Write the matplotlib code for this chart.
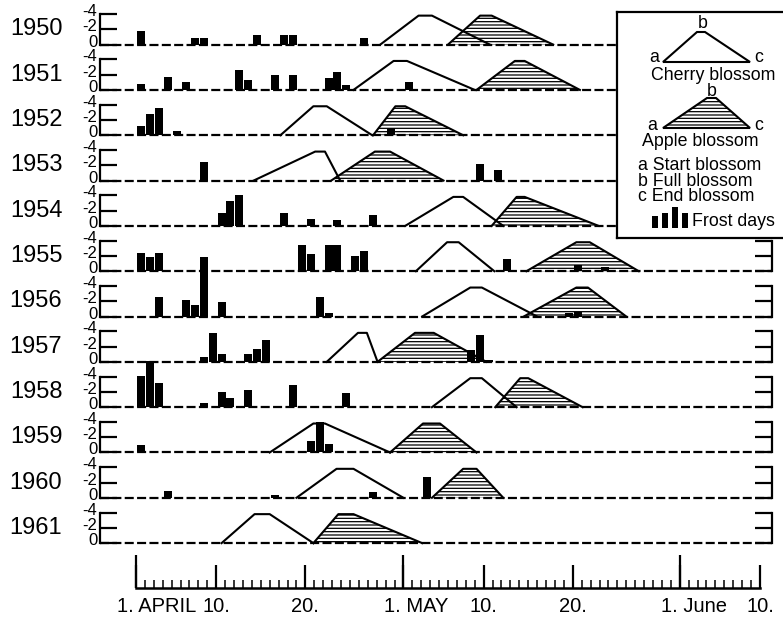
import numpy as np
import matplotlib
matplotlib.use("Agg")
import matplotlib.pyplot as plt
from matplotlib.patches import Polygon
from matplotlib.transforms import ScaledTranslation

plt.rcParams['font.family'] = ['Liberation Sans', 'DejaVu Sans']
plt.rcParams['hatch.linewidth'] = 0.9
plt.rcParams['lines.scale_dashes'] = False

YEARS = [1950, 1951, 1952, 1953, 1954, 1955, 1956, 1957, 1958, 1959, 1960, 1961]

# blossom phases, day of season (1 = 1 April, 31 = 1 May, 62 = 1 June):
# start, full blossom from, full blossom to, end
CHERRY = [
    (28.4, 32.7, 34.2, 40.7),
    (25.4, 29.9, 31.4, 39.0),
    (17.2, 20.9, 22.4, 27.5),
    (14.2, 21.1, 22.2, 23.9),
    (31.2, 36.6, 37.7, 42.2),
    (32.4, 35.9, 37.2, 41.2),
    (33.1, 38.5, 39.8, 46.0),
    (22.4, 25.9, 26.9, 28.1),
    (34.2, 38.5, 39.8, 43.7),
    (16.0, 20.9, 22.2, 29.5),
    (19.0, 23.5, 25.4, 31.0),
    (10.6, 14.3, 16.0, 20.9),
]
APPLE = [
    (36.0, 39.6, 40.9, 47.8),
    (39.2, 43.5, 44.6, 50.8),
    (27.6, 30.1, 31.2, 37.7),
    (22.9, 27.8, 29.5, 35.5),
    (40.9, 43.7, 44.6, 52.9),
    (44.8, 50.4, 51.9, 57.4),
    (44.5, 50.4, 51.7, 56.0),
    (28.1, 32.3, 34.4, 40.3),
    (41.3, 44.1, 45.0, 51.1),
    (29.5, 33.2, 35.1, 39.2),
    (34.2, 37.7, 39.2, 42.2),
    (20.9, 23.7, 25.4, 33.1),
]
PEAK = 3.8

# frost days (day of season) and minimum temperature (deg C)
FROST_DAYS = [
    [1, 7, 8, 14, 17, 18, 26],
    [1, 4, 6, 12, 13, 16, 18, 22, 23, 24, 31],
    [1, 2, 3, 5, 29],
    [8, 39, 41],
    [10, 11, 12, 17, 20, 23, 27],
    [1, 2, 3, 19, 20, 22, 23, 25, 26, 42, 50, 53],
    [3, 6, 7, 8, 10, 21, 22, 49, 50],
    [8, 9, 10, 13, 14, 15, 38, 39, 40],
    [1, 2, 3, 8, 10, 11, 13, 18, 24],
    [1, 20, 21, 22],
    [4, 16, 27, 33],
    [],
]
FROST_TEMP = [
    [-1.8, -0.9, -0.9, -1.2, -1.2, -1.2, -0.9],
    [-0.8, -1.75, -1.0, -2.6, -1.3, -2.0, -2.0, -1.6, -2.4, -0.7, -1.1],
    [-1.2, -2.8, -3.55, -0.5, -0.9],
    [-2.4, -2.2, -1.45],
    [-1.75, -3.2, -4.0, -1.75, -0.9, -0.8, -1.45],
    [-2.4, -1.85, -2.4, -3.4, -2.2, -3.5, -3.4, -2.05, -2.7, -1.55, -0.75, -0.5],
    [-2.6, -2.2, -1.45, -7.8, -1.85, -2.6, -0.4, -0.45, -0.65],
    [-0.65, -3.8, -1.05, -1.05, -1.7, -2.85, -1.6, -3.5, -0.25],
    [-4.1, -6.1, -3.2, -0.5, -2.05, -1.2, -2.2, -2.85, -1.85],
    [-1.0, -1.55, -3.95, -1.1],
    [-0.9, -0.4, -0.75, -2.7],
    [],
]

DATE_TICKS = [1, 10, 20, 31, 40, 50, 62, 71]
DATE_LABELS = ["1. APRIL", "10.", "20.", "1. MAY", "10.", "20.", "1. June", "10."]
MONTH_STARTS = [1, 31, 62]

# layout in pixels
W, H = 783, 618
LEFT, RIGHT = 100, 772
APR1_PX, PX_PER_DAY = 136, 8.914
ROW0, ROW_STEP, ROW_H = 44.6, 45.32, 30.5
XLIM = ((LEFT - APR1_PX) / PX_PER_DAY + 1, (RIGHT - APR1_PX) / PX_PER_DAY + 1)

fig = plt.figure(figsize=(W / 100, H / 100), dpi=100)
up = ScaledTranslation(0, 4 / 100, fig.dpi_scale_trans)

for i, year in enumerate(YEARS):
    base = ROW0 + i * ROW_STEP
    ax = fig.add_axes([LEFT / W, (H - base) / H, (RIGHT - LEFT) / W, ROW_H / H])
    ax.set_xlim(*XLIM)
    ax.set_ylim(0, 4)
    ax.patch.set_visible(False)
    ax.spines['top'].set_visible(False)
    ax.spines['bottom'].set_visible(False)
    ax.spines['left'].set_linewidth(1.6)
    ax.spines['right'].set_linewidth(1.6)
    ax.set_xticks([])
    ax.set_yticks([0, 2, 4], ['0', '-2', '-4'])
    ax.tick_params(axis='y', direction='in', length=12, width=1.6,
                   right=True, labelsize=12, pad=2)
    for lab in ax.get_yticklabels():
        lab.set_transform(lab.get_transform() + up)

    a, b1, b2, c = APPLE[i]
    ax.fill([a, b1, b2, c], [0, PEAK, PEAK, 0], facecolor='white',
            edgecolor='black', lw=0, hatch='-----', zorder=1, clip_on=False)
    ax.plot([a, b1, b2, c], [0, PEAK, PEAK, 0], color='black', lw=1.5,
            zorder=2, clip_on=False)
    a, b1, b2, c = CHERRY[i]
    ax.plot([a, b1, b2, c], [0, PEAK, PEAK, 0], color='black', lw=1.5,
            zorder=2, clip_on=False)

    ax.axhline(0, color='black', lw=1.6, dashes=(6.5, 2.4), zorder=3, clip_on=False)

    d = np.array(FROST_DAYS[i], dtype=float)
    t = np.array(FROST_TEMP[i], dtype=float)
    if len(d):
        ax.bar(d + 0.6, -t, width=0.9, color='black', zorder=4, clip_on=False)

    ax.text(-0.056, 2, str(year), transform=ax.get_yaxis_transform(),
            ha='right', va='center', fontsize=17)

# date scale
dx = fig.add_axes([LEFT / W, (H - 588) / H, (RIGHT - LEFT) / W, 40 / H])
dx.set_xlim(*XLIM)
dx.patch.set_visible(False)
for s in ('top', 'left', 'right'):
    dx.spines[s].set_visible(False)
dx.spines['bottom'].set_bounds(DATE_TICKS[0], DATE_TICKS[-1])
dx.spines['bottom'].set_linewidth(1.8)
dx.set_yticks([])
dx.set_xticks(DATE_TICKS, DATE_LABELS, fontsize=14.5)
dx.set_xticks(range(DATE_TICKS[0], DATE_TICKS[-1] + 1), minor=True)
dx.tick_params(axis='x', which='major', direction='in', length=16.5, width=1.6, pad=6.5)
dx.tick_params(axis='x', which='minor', direction='in', length=5.8, width=1.1)
left_shift = ScaledTranslation(-19 / 100, 0, fig.dpi_scale_trans)
for lab, txt in zip(dx.get_xticklabels(), DATE_LABELS):
    if txt.startswith('1.'):
        lab.set_ha('left')
        lab.set_transform(lab.get_transform() + left_shift)
sec = dx.secondary_xaxis('bottom')
sec.set_xticks(MONTH_STARTS, [''] * len(MONTH_STARTS))
sec.tick_params(direction='in', length=24, width=1.6)
sec.spines['bottom'].set_visible(False)

# legend box (pixel coordinates, y downwards)
lg = fig.add_axes([617 / W, (H - 237.5) / H, (790 - 617) / W, (237.5 - 11.7) / H])
lg.set_xlim(617, 790)
lg.set_ylim(237.5, 11.7)
lg.set_xticks([])
lg.set_yticks([])
lg.set_facecolor('white')
for s in lg.spines.values():
    s.set_linewidth(1.6)

lg.add_patch(Polygon([(663, 62), (697, 32), (705, 32), (750, 62)], closed=True,
                     fill=False, lw=1.5))
lg.add_patch(Polygon([(663, 128), (707, 98), (716, 98), (750, 128)], closed=True,
                     facecolor='white', edgecolor='black', hatch='-----', lw=1.5))
fs = 12.8
lg.text(703, 24, 'b', ha='center', va='center', fontsize=fs)
lg.text(654, 58, 'a', ha='center', va='center', fontsize=fs)
lg.text(759, 58, 'c', ha='center', va='center', fontsize=fs)
lg.text(713, 75, 'Cherry blossom', ha='center', va='center', fontsize=fs)
lg.text(712, 91, 'b', ha='center', va='center', fontsize=fs)
lg.text(652, 125, 'a', ha='center', va='center', fontsize=fs)
lg.text(759, 125, 'c', ha='center', va='center', fontsize=fs)
lg.text(700, 142, 'Apple blossom', ha='center', va='center', fontsize=fs)
lg.text(638, 181, 'a Start blossom\nb Full blossom\nc End blossom',
        ha='left', va='center', fontsize=fs, linespacing=0.9)
lg.bar([655, 665, 675, 685], [-12, -15, -21, -15], bottom=228, width=6, color='black')
lg.text(692, 221, 'Frost days', ha='left', va='center', fontsize=fs)

fig.savefig('out.png', dpi=100)
